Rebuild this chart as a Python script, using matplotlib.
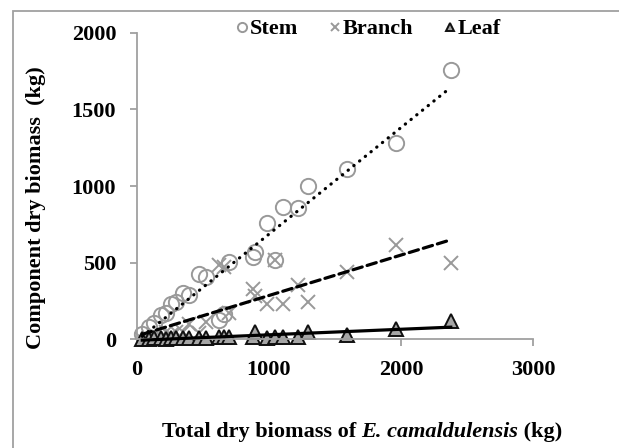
import matplotlib
matplotlib.use("Agg")
import matplotlib.pyplot as plt
import numpy as np
from matplotlib.patches import Rectangle

plt.rcParams['font.family'] = ['Liberation Serif', 'DejaVu Serif']
plt.rcParams['font.weight'] = 'bold'

# total dry biomass per tree (kg) and its components
total = [40, 91, 130, 180, 218, 260, 294, 350, 395, 471, 521, 623, 660, 699,
         876, 895, 985, 1045, 1109, 1217, 1298, 1589, 1959, 2377]
stem = [35, 80, 105, 160, 170, 228, 244, 300, 288, 425, 405, 124, 165, 505,
        534, 571, 756, 516, 861, 854, 1000, 1109, 1279, 1758]
branch = [3, 8, 20, 15, 45, 28, 45, 45, 100, 40, 110, 484, 470, 170,
          330, 280, 229, 516, 229, 353, 244, 440, 614, 495]
leaf = [2, 3, 5, 5, 3, 4, 5, 5, 7, 6, 6, 15, 15, 15,
        10, 48, 5, 10, 10, 15, 48, 26, 63, 118]

xticks = [0, 1000, 2000, 3000]
yticks = [0, 500, 1000, 1500, 2000]

grey = '#a0a0a0'
fig = plt.figure(figsize=(6.19, 4.48), dpi=100)
ax = fig.add_axes([137/619, 109/448, 396/619, 306/448])

x = np.array(total, dtype=float)
ax.plot(x, stem, 'o', ms=11, mfc='none', mec='#999999', mew=1.4, clip_on=False, label='Stem', zorder=2)
ax.plot(x, branch, 'x', ms=10, mec='#999999', mew=1.4, clip_on=False, label='Branch', zorder=2)
ax.plot(x, leaf, '^', ms=10.5, mfc='#a6a6a6', mec='#111111', mew=1.4, clip_on=False, label='Leaf', zorder=2)

# linear trendlines over the data range
xs = np.array([x.min(), x.max()])
for vals, ls in [(stem, (0, (0.1, 2.2))), (branch, (0, (3, 1.6))), (leaf, '-')]:
    k, b = np.polyfit(x, vals, 1)
    line, = ax.plot(xs, k * xs + b, color='black', lw=2.3, ls=ls, zorder=3, clip_on=False)
    if ls != '-':
        line.set_dash_capstyle('round')

ax.set_xlim(0, 3000)
ax.set_ylim(0, 2000)
ax.set_xticks(xticks)
ax.set_yticks(yticks)
for s in ['top', 'right']:
    ax.spines[s].set_visible(False)
for s in ['left', 'bottom']:
    ax.spines[s].set_color(grey)
    ax.spines[s].set_linewidth(1.3)
ax.tick_params(axis='both', direction='out', length=5, width=1.3, color=grey,
               labelsize=16, pad=10)
for t in ax.get_xticklabels() + ax.get_yticklabels():
    t.set_fontweight('bold')

leg = ax.legend(loc='center', bbox_to_anchor=(0.596, 0.935), bbox_transform=fig.transFigure,
                ncol=3, frameon=False, markerscale=0.6, handlelength=0.5,
                handletextpad=0.1, columnspacing=1.4, prop={'size': 16, 'weight': 'bold'})

fig.text(36/619, 1 - 208/448, 'Component dry biomass  (kg)', rotation=90,
         ha='center', va='center', fontsize=16, fontweight='bold')

# x label with italic species name, laid out piece by piece
parts = [('Total dry biomass of ', 'normal'), ('E. camaldulensis', 'italic'), (' (kg)', 'normal')]
texts = [fig.text(0, 1 - 432/448, s, style=st, fontsize=16, fontweight='bold', va='center')
         for s, st in parts]
fig.canvas.draw()
r = fig.canvas.get_renderer()
widths = [t.get_window_extent(r).width for t in texts]
xpos = 362 - sum(widths) / 2
for t, w in zip(texts, widths):
    t.set_x(xpos / 619)
    xpos += w

fig.patches.append(Rectangle((13/619, -0.1), 1.2, 1.1 - 11/448, transform=fig.transFigure,
                             fill=False, ec=grey, lw=1.3))

fig.savefig('out.png', dpi=100)
